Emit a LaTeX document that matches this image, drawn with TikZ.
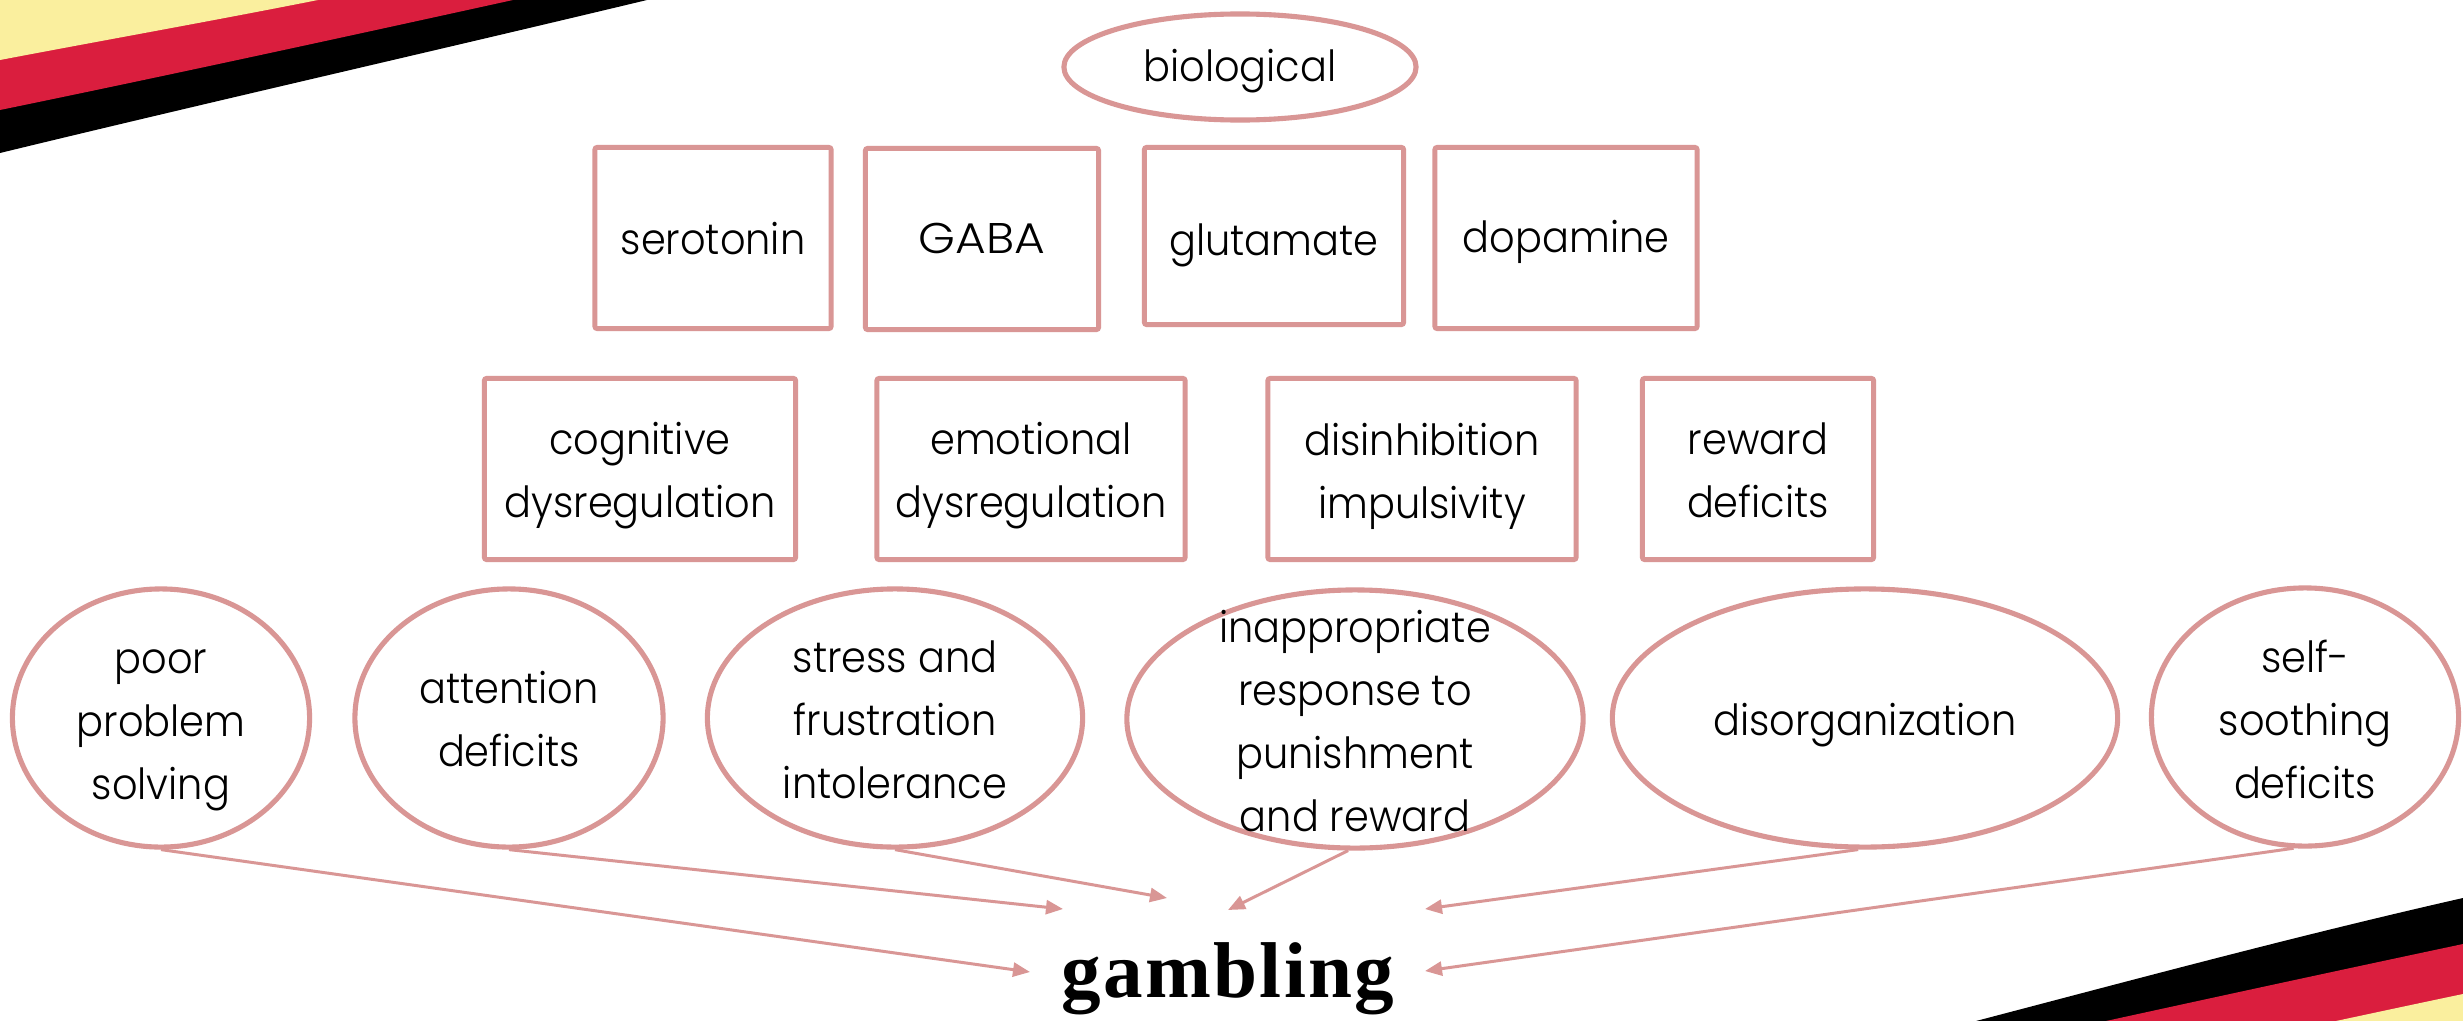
\documentclass[tikz,border=0pt]{standalone}
\usepackage{fontspec}
\setmainfont{Poppins Light}[FakeStretch=0.93]
\newfontfamily\gamfont{Liberation Serif}[LetterSpace=3]
\usetikzlibrary{shapes.geometric,arrows.meta}
\definecolor{pinkline}{RGB}{217,150,149}
\definecolor{bandred}{RGB}{218,30,62}
\definecolor{bandyellow}{RGB}{250,239,158}
\begin{document}
\begin{tikzpicture}[x=0.01cm,y=-0.01cm,
  txt/.style={font=\fontsize{12.2}{17.9}\selectfont, align=center, text=black},
  box/.style={draw=pinkline, line width=1.4pt, rounded corners=0.6pt, inner sep=0pt, minimum height=1.81cm},
  oval/.style={ellipse, draw=pinkline, line width=1.45pt, inner sep=0pt, minimum height=2.58cm},
  arr/.style={draw=pinkline, line width=0.85pt, -{Triangle[length=0.17cm,width=0.14cm]}}]
\useasboundingbox (0,0) rectangle (2463,1021);
\fill[white] (0,0) rectangle (2463,1021);
% banners
\begin{scope}
\clip (0,0) rectangle (2463,1021);
\fill[black] (0,0) -- (647,0) .. controls (430,52) and (210,102) .. (0,153) -- cycle;
\fill[bandred] (0,0) -- (513,0) .. controls (340,38) and (170,75) .. (0,110) -- cycle;
\fill[bandyellow] (0,0) -- (318,0) .. controls (212,21) and (105,40) .. (0,60) -- cycle;
\fill[black] (1976,1021) .. controls (2140,978) and (2300,935) .. (2463,898) -- (2463,1021) -- cycle;
\fill[bandred] (2106,1021) .. controls (2225,995) and (2345,969) .. (2463,944) -- (2463,1021) -- cycle;
\fill[bandyellow] (2336,1021) .. controls (2378,1012) and (2420,1003) .. (2463,994) -- (2463,1021) -- cycle;
\end{scope}
% top
\node[oval, minimum width=3.52cm, minimum height=1.06cm, label={[txt,yshift=-0.04cm]center:biological}] (bio) at (1240,67) {};
% row 1
\node[box, minimum width=2.36cm, label={[txt,yshift=-0.01cm]center:serotonin}] (sero) at (713,238) {};
\node[box, minimum width=2.33cm, label={[txt,yshift=0.01cm]center:{\addfontfeature{FakeStretch=1.1}GABA}}] (gaba) at (982,239) {};
\node[box, minimum width=2.59cm, minimum height=1.77cm, label={[txt,yshift=-0.09cm]center:glutamate}] (glut) at (1274,236) {};
\node[box, minimum width=2.62cm, label={[txt,yshift=-0.04cm]center:dopamine}] (dopa) at (1566,238) {};
% row 2
\node[box, minimum width=3.11cm, label={[txt,yshift=-0.07cm]center:{cognitive\\dysregulation}}] (cog) at (640,469) {};
\node[box, minimum width=3.08cm, label={[txt,yshift=-0.07cm]center:{emotional\\dysregulation}}] (emo) at (1031,469) {};
\node[box, minimum width=3.08cm, label={[txt,yshift=-0.07cm]center:{disinhibition\\impulsivity}}] (dis) at (1422,469) {};
\node[box, minimum width=2.31cm, label={[txt,yshift=-0.01cm]center:{reward\\deficits}}] (rew) at (1758,469) {};
% row 3
\node[oval, minimum width=2.97cm, label={[txt,yshift=-0.12cm]center:{poor\\problem\\solving}}] (poor) at (161,718) {};
\node[oval, minimum width=3.08cm, label={[txt,yshift=-0.01cm]center:{attention\\deficits}}] (att) at (509,718) {};
\node[oval, minimum width=3.75cm, label={[txt,yshift=-0.02cm]center:{stress and\\frustration\\intolerance}}] (stress) at (895,718) {};
\node[oval, minimum width=4.56cm, label={[txt,yshift=-0.02cm]center:{inappropriate\\response to\\punishment\\and reward}}] (inap) at (1355,719) {};
\node[oval, minimum width=5.05cm, label={[txt,yshift=-0.07cm]center:disorganization}] (disorg) at (1865,718) {};
\node[oval, minimum width=3.07cm, label={[txt,yshift=-0.02cm]center:{self-\\soothing\\deficits}}] (self) at (2305,717) {};
% target
\node[font=\gamfont\bfseries\fontsize{22.5}{27}\selectfont, anchor=base, inner sep=0pt] (gam) at (1228,997) {gambling};
% arrow ends
\coordinate (ePoor) at (1030,972);
\coordinate (eAtt) at (1063,909);
\coordinate (eStress) at (1167,898);
\coordinate (eInap) at (1228,910);
\coordinate (eDis) at (1425,909);
\coordinate (eSelf) at (1425,971);
\draw[arr] (poor.south) -- (ePoor);
\draw[arr] (att.south) -- (eAtt);
\draw[arr] (stress.south) -- (eStress);
\draw[arr] (inap.-93) -- (eInap);
\draw[arr] (disorg.-93) -- (eDis);
\draw[arr] (self.-95) -- (eSelf);
\end{tikzpicture}
\end{document}
